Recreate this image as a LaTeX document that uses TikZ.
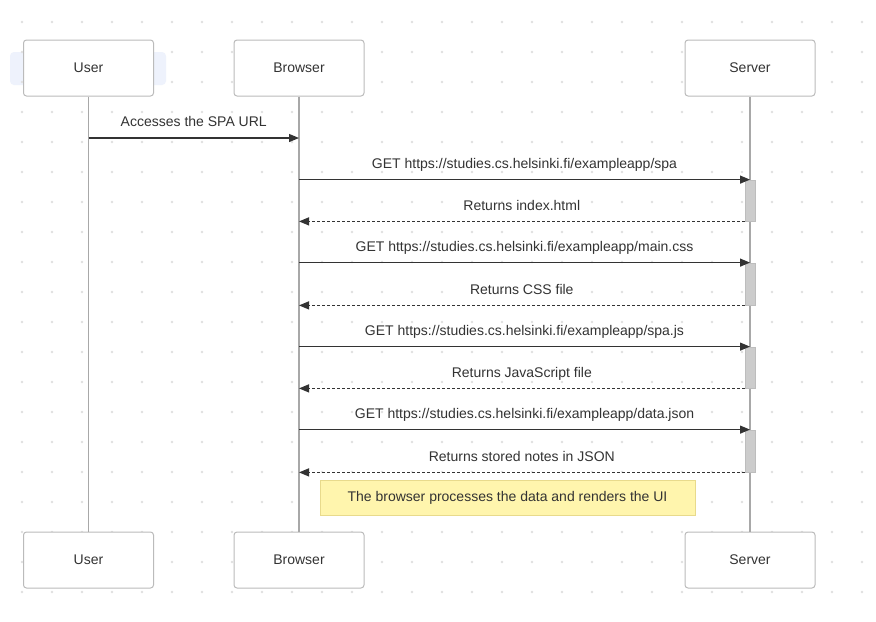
\documentclass[tikz,border=0pt]{standalone}
\usepackage{fontspec}
\setmainfont{Liberation Sans}
\usetikzlibrary{arrows.meta}
\definecolor{txt}{HTML}{333333}
\definecolor{boxline}{HTML}{BBBBBB}
\definecolor{lifeline}{HTML}{A8A8A8}
\definecolor{dotc}{HTML}{E0E0E0}
\definecolor{halo}{HTML}{EEF2FC}
\definecolor{actfill}{HTML}{CCCCCC}
\definecolor{actline}{HTML}{BDBDBD}
\definecolor{notefill}{HTML}{FFF5AD}
\definecolor{noteline}{HTML}{E8DA8C}
\begin{document}
\begin{tikzpicture}[x=0.75pt,y=-0.75pt,
  every node/.style={font=\fontsize{10.5}{12.6}\selectfont, text=txt},
  actor/.style={draw=boxline, line width=0.75pt, fill=white, rounded corners=2.25pt,
    minimum width=97.5pt, minimum height=42pt, inner sep=0pt},
  life/.style={draw=lifeline, line width=1.1pt},
  actbar/.style={draw=actline, fill=actfill, line width=0.6pt, minimum width=7.5pt, inner sep=0pt},
  msg/.style={draw=txt, line width=0.9pt, -{Triangle[length=7.5pt,width=6pt]}},
  reply/.style={msg, dash pattern=on 2.25pt off 1.5pt},
  lbl/.style={midway, anchor=base, yshift=8.4pt, inner sep=0pt},
  notebox/.style={draw=noteline, fill=notefill, line width=0.75pt, minimum width=281.25pt, minimum height=26.25pt, inner sep=0pt}
]
\useasboundingbox (0,0) rectangle (876,622);
\fill[white] (0,0) rectangle (876,622);
% highlight behind User
\fill[halo, rounded corners=3pt] (10,52) rectangle (166,85);
% dot grid
\foreach \i in {0,...,28}{
  \foreach \j in {0,...,19}{
    \fill[dotc] ({22+30*\i},{22+30*\j}) circle (1.1pt);
  }
}
% actors
\node[actor] (uT) at (88.5,68) {User};
\node[actor] (bT) at (299,68) {Browser};
\node[actor] (sT) at (750,68) {Server};
\node[actor] (uB) at (88.5,560) {User};
\node[actor] (bB) at (299,560) {Browser};
\node[actor] (sB) at (750,560) {Server};
% lifelines
\draw[life] (uT.south) -- (uB.north);
\draw[life] (bT.south) -- (bB.north);
\draw[life] (sT.south) -- (sB.north);
% activation bars
\node[actbar, minimum height=30.75pt] (a1) at (750,200.5) {};
\node[actbar, minimum height=31.5pt] (a2) at (750,284) {};
\node[actbar, minimum height=30.75pt] (a3) at (750,367.5) {};
\node[actbar, minimum height=31.5pt] (a4) at (750,451) {};
% messages
\coordinate (m1) at (0,138);
\draw[msg] (uT |- m1) -- (bT |- m1) node[lbl] {Accesses the SPA URL};
\draw[msg] (bT |- a1.north) -- (a1.north) node[lbl] {GET https://studies.cs.helsinki.fi/exampleapp/spa};
\draw[reply] (a1.south west) -- (bT |- a1.south) node[lbl] {Returns index.html};
\draw[msg] (bT |- a2.north) -- (a2.north) node[lbl] {GET https://studies.cs.helsinki.fi/exampleapp/main.css};
\draw[reply] (a2.south west) -- (bT |- a2.south) node[lbl] {Returns CSS file};
\draw[msg] (bT |- a3.north) -- (a3.north) node[lbl] {GET https://studies.cs.helsinki.fi/exampleapp/spa.js};
\draw[reply] (a3.south west) -- (bT |- a3.south) node[lbl] {Returns JavaScript file};
\draw[msg] (bT |- a4.north) -- (a4.north) node[lbl] {GET https://studies.cs.helsinki.fi/exampleapp/data.json};
\draw[reply] (a4.south west) -- (bT |- a4.south) node[lbl] {Returns stored notes in JSON};
% note
\node[notebox] (note) at (507.5,497.5) {The browser processes the data and renders the UI};
\end{tikzpicture}
\end{document}
